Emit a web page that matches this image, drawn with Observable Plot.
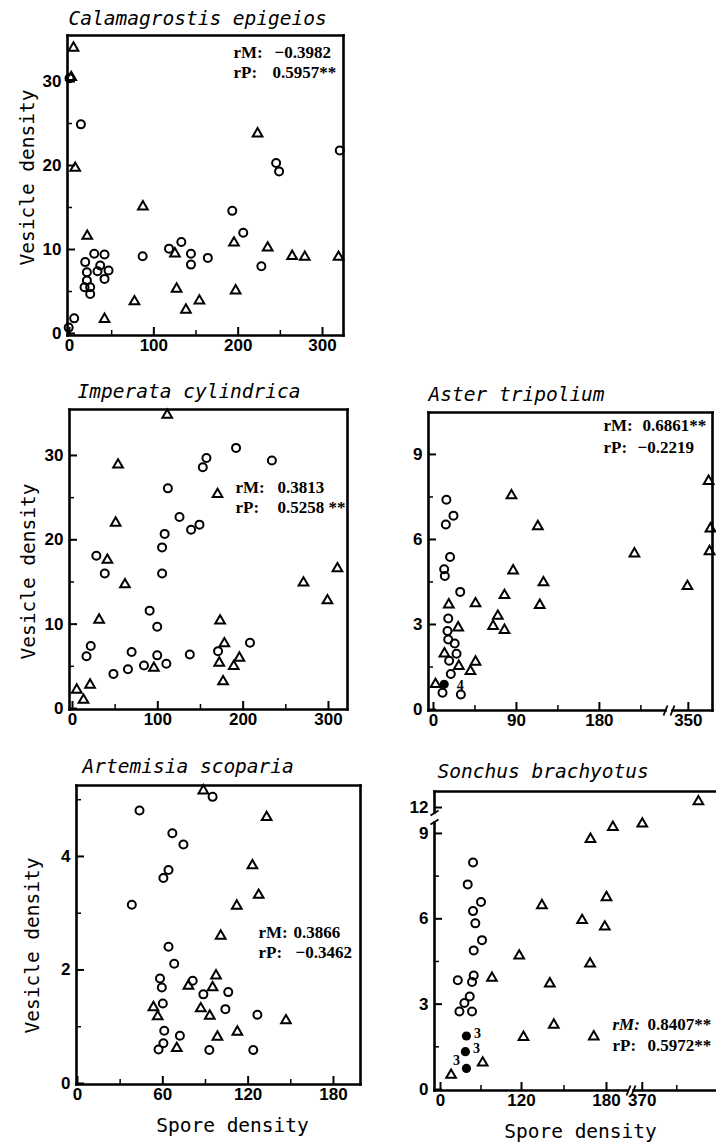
<!DOCTYPE html>
<html><head><meta charset="utf-8">
<script src="https://cdn.jsdelivr.net/npm/d3@7"></script>
<script src="https://cdn.jsdelivr.net/npm/@observablehq/plot@0.6"></script>
<style>
html,body{margin:0;padding:0;background:#fff;overflow:hidden}
#fig{position:relative;width:716px;height:1145px;background:#fff;overflow:hidden}
#fig svg{position:absolute}
</style></head><body><div id="fig"></div>
<script>
// ---------- DATA ----------
// Calamagrostis epigeios
const calTitle = "Calamagrostis epigeios";
const calTri = [[4.7,34.0],[2,30.5],[6.7,19.7],[21,11.6],[41.5,1.7],[77,3.8],[87,15.1],[125,9.5],[127,5.3],[138,2.8],[154,3.9],[195,10.8],[197,5.1],[223,23.8],[235,10.2],[264,9.2],[279,9.1],[319,9.1]];
const calCir = [[0,30.4],[13.5,24.9],[5.5,1.8],[-1,0.7],[29.3,9.5],[41.5,9.4],[18.6,8.5],[36.4,8.1],[20.6,7.3],[33.2,7.4],[46.3,7.5],[41.5,6.5],[20.6,6.3],[17.8,5.5],[24.5,5.5],[24.5,4.7],[86.7,9.2],[118,10.1],[132.6,10.9],[144,9.5],[144,8.2],[164,9.0],[193,14.6],[206,12.0],[227.5,8.0],[245,20.3],[248.5,19.3],[320.5,21.8]];
const calStats = ["rM:", "\u22120.3982", "rP:", "0.5957**"];
const calXTicks = [0,100,200,300], calXMinor = [50,150,250];
const calYTicks = [0,10,20,30], calYMinor = [5,15,25];

// Imperata cylindrica
const impTitle = "Imperata cylindrica";
const impTri = [[111,34.8],[53.4,28.9],[50.6,22.0],[40.9,17.6],[61.5,14.7],[31.2,10.5],[20.6,2.8],[5,2.2],[12.9,1.0],[95.4,4.8],[170,25.4],[173,10.4],[178,7.7],[172,5.4],[176.5,3.2],[189,5.0],[195.6,6.0],[270.7,14.9],[298.8,12.8],[310.5,16.6]];
const impCir = [[28,18.1],[37.8,16.0],[16.4,6.2],[21.4,7.4],[48,4.1],[65,4.65],[69.3,6.7],[83.8,5.1],[90.4,11.6],[99.3,9.7],[99.3,6.3],[105,16.0],[105,19.1],[108,20.7],[110,5.3],[111.8,26.1],[125.4,22.7],[139,21.2],[148.8,21.8],[152.7,28.6],[157,29.7],[137.5,6.4],[170.6,6.8],[191.7,30.9],[208,7.8],[233.7,29.4]];
const impStats = ["rM:", "0.3813", "rP:", "0.5258 **"];
const impXTicks = [0,100,200,300], impXMinor = [50,150,250];
const impYTicks = [0,10,20,30], impYMinor = [5,15,25];

// Aster tripolium
const astTitle = "Aster tripolium";
const astTri = [[84.6,7.55],[113.2,6.46],[86.4,4.9],[119.3,4.48],[77,4.03],[115.3,3.68],[45.6,3.74],[16.6,3.70],[69.8,3.30],[64.7,2.94],[77,2.80],[26.8,2.89],[11.9,1.97],[27.5,1.53],[45.6,1.68],[40.1,1.35],[2.2,0.89],[218,5.5],[349,4.35],[372,8.06],[374,6.38],[373,5.58]];
const astCir = [[14,7.4],[13.4,6.53],[21.7,6.84],[18,5.38],[11.6,4.95],[12.3,4.71],[29,4.15],[16,3.21],[15.2,2.77],[16,2.47],[23,2.33],[25,1.97],[17,1.72],[18.8,1.25],[9.8,0.59],[29.7,0.53]];
const astFilled = [[11.6,0.89]];
const astFilledLabels = ["4"];
const astStats = ["rM:", "0.6861**", "rP:", "\u22120.2219"];
const astXTicks = [0,90,180,350], astXMinor = [45,135,225];
const astYTicks = [0,3,6,9], astYMinor = [1.5,4.5,7.5];

// Artemisia scoparia
const artTitle = "Artemisia scoparia";
const artCir = [[43.6,4.81],[38.2,3.15],[66.7,4.41],[74.5,4.21],[64,3.76],[60.4,3.62],[95,5.05],[64,2.41],[68,2.11],[58,1.85],[59.3,1.69],[60,1.41],[81,1.81],[88.5,1.57],[106,1.61],[104,1.31],[126.5,1.21],[61,0.93],[72,0.84],[60.4,0.71],[57,0.60],[92.7,0.59],[123.6,0.59]];
const artTri = [[88.5,5.16],[133,4.69],[123,3.84],[127.4,3.32],[112,3.13],[100.7,2.6],[97.4,1.9],[78,1.72],[95,1.69],[53.4,1.34],[56.4,1.18],[86.7,1.32],[93,1.19],[146.6,1.11],[112.4,0.91],[98.4,0.82],[69.8,0.62]];
const artStats = ["rM:", "0.3866", "rP:", "\u22120.3462"];
const artXTicks = [0,60,120,180], artXMinor = [30,90,150];
const artYTicks = [0,2,4], artYMinor = [1,3,5];

// Sonchus brachyotus
const sonTitle = "Sonchus brachyotus";
const sonTri = [[418.8,12.21],[370,9.34],[184.5,9.22],[168.7,8.8],[180,6.75],[162.8,5.95],[178.8,5.72],[134.4,6.47],[116.6,4.7],[168.4,4.42],[140,3.72],[76.2,3.92],[142.8,2.27],[121.4,1.84],[171,1.86],[62.5,0.94],[15.7,0.51]];
const sonCir = [[48.2,7.98],[40.3,7.21],[60,6.59],[48.2,6.27],[51.6,5.84],[61.5,5.25],[49.2,4.89],[25.6,3.84],[49.2,4.01],[46.7,3.78],[43.3,3.27],[35.4,3.04],[28,2.74],[46.7,2.74]];
const sonFilled = [[38.4,1.88],[36.9,1.33],[38.4,0.74]];
const sonFilledLabels = ["3","3","3"];
const sonStats = ["rM:", "0.8407**", "rP:", "0.5972**"];
const sonXTicks = [0,120,180,370], sonXMinor = [60,150,400];
const sonYTicks = [0,3,6,9,12], sonYMinor = [1.5,4.5,7.5];

const yLabel = "Vesicle density";
const xLabel = "Spore density";

// ---------- DRAWING ----------
const MONO = "DejaVu Sans Mono, monospace";
const SERIF = "Liberation Serif, DejaVu Serif, serif";
const SANS = "Liberation Sans, Arial, sans-serif";
const INK = "#000";
const fig = document.getElementById("fig");

function makePanel(p) {
  // broken-axis maps (raw value -> axis units); identity when the axis is continuous
  const fx = p.xBreak ? d3.scaleLinear().domain(p.xBreak[0]).range(p.xBreak[1]) : d3.scaleLinear();
  const fy = p.yBreak ? d3.scaleLinear().domain(p.yBreak[0]).range(p.yBreak[1]) : d3.scaleLinear();
  const [L, R] = p.xR, [B, T] = p.yR;
  // page pixel -> axis units (for the frame and break decorations only)
  const px2x = d3.scaleLinear().domain(p.xR).range(p.xD);
  const py2y = d3.scaleLinear().domain(p.yR).range(p.yD);
  const seg = ([a, b, c, d]) => ({x1: px2x(a), y1: py2y(b), x2: px2x(c), y2: py2y(d)});
  const frameSegs = (p.frameSegs || [[L, T, R, T], [L, B, R, B], [L, T, L, B], [R, T, R, B]]).map(seg);
  const slashSegs = (p.slashes || []).map(seg);
  const fmt = s => v => String(+s.invert(v).toFixed(2));
  const txt = (s, px, py, o = {}) => Plot.text([s], {text: d => d, frameAnchor: "top-left", dx: px - L, dy: py - T,
    lineAnchor: "bottom", textAnchor: "start", fill: INK, ...o});
  const X = d => fx(d[0]), Y = d => fy(d[1]);
  const marks = [
    Plot.link(frameSegs, {x1: "x1", y1: "y1", x2: "x2", y2: "y2", stroke: INK, strokeWidth: 2.6, strokeLinecap: "square"}),
    Plot.link(slashSegs, {x1: "x1", y1: "y1", x2: "x2", y2: "y2", stroke: INK, strokeWidth: 1.8}),
    Plot.axisX(p.xt.map(fx), {tickSize: -8, strokeWidth: 2, fill: "none", label: null}),
    Plot.axisX(p.xm.map(fx), {tickSize: -5, strokeWidth: 1.5, fill: "none", label: null}),
    Plot.axisX(p.xt.map(fx), {tickSize: 0, tickPadding: 3, label: null, tickFormat: fmt(fx), fill: INK,
      fontFamily: SANS, fontWeight: "bold", fontSize: 17}),
    Plot.axisY(p.yt.map(fy), {tickSize: -8, strokeWidth: 2, fill: "none", label: null}),
    Plot.axisY(p.ym.map(fy), {tickSize: -5, strokeWidth: 1.5, fill: "none", label: null}),
    Plot.axisY(p.yt.map(fy), {tickSize: 0, tickPadding: 6, label: null, tickFormat: fmt(fy), fill: INK,
      fontFamily: SANS, fontWeight: "bold", fontSize: 17}),
    Plot.dot(p.cir, {x: X, y: Y, r: 4, stroke: INK, strokeWidth: 2, fill: "none"}),
    Plot.dot(p.tri, {x: X, y: Y, symbol: "triangle", r: 3.6, stroke: INK, strokeWidth: 2, fill: "none"}),
    txt(p.title, p.titlePos[0], p.titlePos[1], {fontFamily: MONO, fontStyle: "italic", fontSize: 19.5}),
    txt(p.stats[0], p.statPos[0], p.statPos[2], {fontFamily: SERIF, fontWeight: "bold", fontSize: 17, fontStyle: p.italicR ? "italic" : "normal"}),
    txt(p.stats[1], p.statPos[1], p.statPos[2], {fontFamily: SERIF, fontWeight: "bold", fontSize: 17}),
    txt(p.stats[2], p.statPos[0], p.statPos[3], {fontFamily: SERIF, fontWeight: "bold", fontSize: 17}),
    txt(p.stats[3], p.statPos[4] ?? p.statPos[1], p.statPos[3], {fontFamily: SERIF, fontWeight: "bold", fontSize: 17})
  ];
  if (p.filled) {
    marks.push(Plot.dot(p.filled, {x: X, y: Y, r: 4.6, fill: INK, stroke: "none"}));
    p.labelGroups.forEach(g => {
      marks.push(Plot.text(p.filled.slice(g.from, g.to), {x: X, y: Y, text: (d, i) => p.filledLabels[g.from + i],
        dx: g.dx, dy: g.dy, fill: INK, fontFamily: SERIF, fontWeight: "bold", fontSize: 14}));
    });
  }
  if (p.yLabelPos) marks.push(txt(yLabel, p.yLabelPos[0], p.yLabelPos[1], {rotate: -90, textAnchor: "middle", fontFamily: MONO, fontSize: 19.5}));
  if (p.xLabelPos) marks.push(txt(xLabel, p.xLabelPos[0], p.xLabelPos[1], {textAnchor: "middle", fontFamily: MONO, fontSize: 19.5}));

  const svg = Plot.plot({
    width: p.width, height: p.height,
    marginLeft: L - p.left, marginRight: p.left + p.width - R,
    marginTop: T - p.top, marginBottom: p.top + p.height - B,
    x: {type: "linear", domain: p.xD},
    y: {type: "linear", domain: p.yD},
    style: "background: transparent; overflow: visible; color: #000;",
    marks
  });
  svg.style.left = p.left + "px";
  svg.style.top = p.top + "px";
  fig.appendChild(svg);
}

// Calamagrostis
makePanel({left: 0, top: 0, width: 352, height: 362,
  xD: [-2.4, 324.9], xR: [67, 343], yD: [-0.24, 35.48], yR: [335, 35],
  xt: calXTicks, xm: calXMinor, yt: calYTicks, ym: calYMinor,
  cir: calCir, tri: calTri, title: calTitle, titlePos: [68, 24],
  stats: calStats, statPos: [233, 274, 57, 77, 272], yLabelPos: [33, 177]});

// Imperata
makePanel({left: 0, top: 375, width: 360, height: 360,
  xD: [-3.5, 322.3], xR: [69, 347], yD: [-0.12, 35.45], yR: [709, 409],
  xt: impXTicks, xm: impXMinor, yt: impYTicks, ym: impYMinor,
  cir: impCir, tri: impTri, title: impTitle, titlePos: [77, 397],
  stats: impStats, statPos: [235, 277, 492, 512], yLabelPos: [34, 571]});

// Aster (x axis broken between 254 and 334)
makePanel({left: 360, top: 375, width: 356, height: 360,
  xBreak: [[-10, 254, 334, 400], [-10, 254, 260.5, 326.5]],
  xD: [-5.4, 302.7], xR: [428, 712], yD: [-0.035, 10.48], yR: [710, 412],
  frameSegs: [[428, 412, 712, 412], [428, 412, 428, 710], [712, 412, 712, 710], [428, 710, 665, 710], [672, 710, 712, 710]],
  slashes: [[663, 715, 667, 705], [670, 715, 674, 705]],
  xt: astXTicks, xm: astXMinor, yt: astYTicks, ym: astYMinor,
  cir: astCir, tri: astTri, title: astTitle, titlePos: [428, 400],
  filled: astFilled, filledLabels: astFilledLabels, labelGroups: [{from: 0, to: 1, dx: 16, dy: 1}],
  stats: astStats, statPos: [603, 642, 430, 452, 637]});

// Artemisia
makePanel({left: 0, top: 735, width: 365, height: 410,
  xD: [-0.7, 199], xR: [76, 360], yD: [-0.018, 5.25], yR: [1084, 785],
  xt: artXTicks, xm: artXMinor, yt: artYTicks, ym: artYMinor,
  cir: artCir, tri: artTri, title: artTitle, titlePos: [82, 772],
  stats: artStats, statPos: [258, 293, 937, 957, 295], yLabelPos: [38, 945], xLabelPos: [232, 1131]});

// Sonchus (x axis broken between 195 and 362, y axis broken between 9.4 and 11.8)
makePanel({left: 360, top: 735, width: 370, height: 410,
  xBreak: [[-8.9, 120, 180, 195.5, 361.5, 438], [-6, 81, 166, 188, 192, 280]],
  yBreak: [[-0.035, 9.42, 11.79, 12.56], [0, 269, 277, 299]],
  xD: [-6, 280], xR: [434, 720], yD: [0, 299], yR: [1090, 791],
  frameSegs: [[434, 791, 720, 791], [720, 791, 720, 1090], [434, 791, 434, 812], [434, 822, 434, 1090], [434, 1090, 627, 1090], [633, 1090, 720, 1090]],
  slashes: [[626, 1095, 630, 1085], [631, 1095, 635, 1085], [430, 815, 438, 810], [430, 824, 438, 819]],
  xt: sonXTicks, xm: sonXMinor, yt: sonYTicks, ym: sonYMinor,
  cir: sonCir, tri: sonTri, title: sonTitle, titlePos: [437, 777],
  filled: sonFilled, filledLabels: sonFilledLabels,
  labelGroups: [{from: 0, to: 2, dx: 11, dy: -3}, {from: 2, to: 3, dx: -10, dy: -8}],
  stats: sonStats, statPos: [612, 647, 1029, 1050], italicR: true, xLabelPos: [580, 1137]});
</script></body></html>
